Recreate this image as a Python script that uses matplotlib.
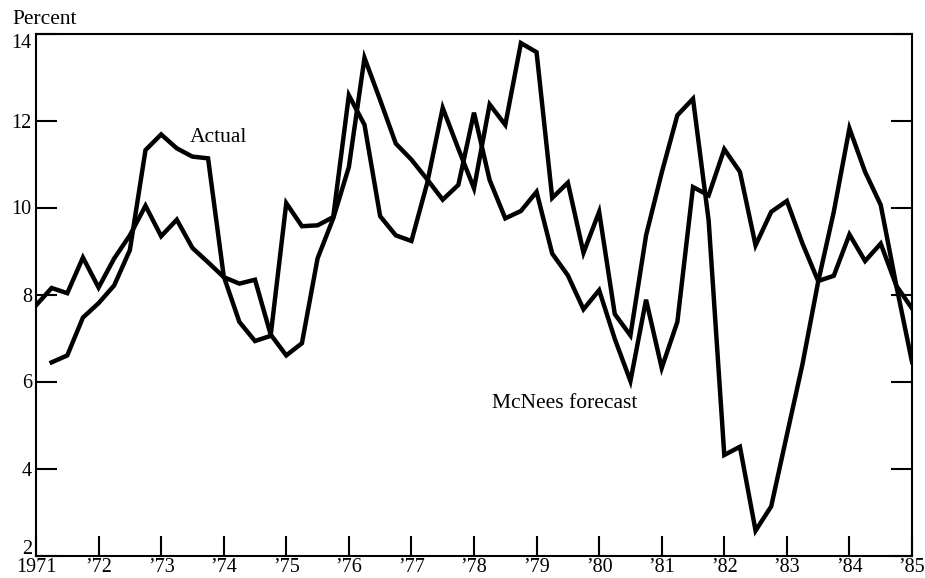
import matplotlib
matplotlib.use("Agg")
import matplotlib.pyplot as plt
import matplotlib.transforms as mtransforms
import numpy as np

# quarterly values
actual_start = 1971.25
actual = [6.44, 6.6, 7.47,
          7.8, 8.21, 9.02, 11.32,
          11.68, 11.36, 11.17, 11.13,
          8.42, 7.37, 6.93, 7.05,
          10.1, 9.57, 9.59, 9.78,
          12.58, 11.9, 9.8, 9.36,
          9.23, 10.55, 12.29, 11.35,
          10.44, 12.37, 11.9, 13.78,
          13.57, 10.22, 10.57, 8.96,
          9.9, 7.55, 7.06, 9.36,
          10.8, 12.12, 12.5, 9.7,
          4.31, 4.5, 2.57, 3.13,
          4.77, 6.4, 8.29, 9.9,
          11.82, 10.82, 10.06, 8.2,
          6.45]

forecast_start = 1971.0
forecast = [7.75, 8.15, 8.03, 8.85,
            8.16, 8.83, 9.36, 10.04,
            9.34, 9.72, 9.07, 8.74,
            8.4, 8.25, 8.34, 7.08,
            6.6, 6.88, 8.83, 9.75,
            10.93, 13.44, 12.47, 11.47,
            11.1, 10.65, 10.18, 10.52,
            12.18, 10.63, 9.75, 9.92,
            10.36, 8.94, 8.44, 7.66,
            8.1, 6.98, 6.01, 7.88,
            6.31, 7.37, 10.47, 10.28,
            11.34, 10.82, 9.13, 9.9,
            10.15, 9.17, 8.31, 8.43,
            9.38, 8.77, 9.17, 8.2,
            7.68]

years = list(range(1971, 1986))
year_labels = ["1971"] + ["\u2019%02d" % (y % 100) for y in years[1:]]
y_ticks = [2, 4, 6, 8, 10, 12, 14]

t_actual = actual_start + 0.25 * np.arange(len(actual))
t_forecast = forecast_start + 0.25 * np.arange(len(forecast))

plt.rcParams['font.family'] = ['Liberation Serif', 'DejaVu Serif']
plt.rcParams['font.size'] = 14.5

W, H = 925, 578
fig = plt.figure(figsize=(W / 100, H / 100), dpi=100)
ax = fig.add_axes([36 / W, 1 - 555.5 / H, (912 - 36) / W, (555.5 - 33.5) / H])

ax.plot(t_actual, actual, color='black', lw=3.2, solid_joinstyle='miter')
ax.plot(t_forecast, forecast, color='black', lw=3.2, solid_joinstyle='miter')

ax.set_xlim(1971, 1985)
ax.set_ylim(2, 14)
ax.set_xticks(years)
ax.set_xticklabels(year_labels)
ax.set_yticks(y_ticks)
ax.set_yticklabels([str(v) for v in y_ticks])

for s in ax.spines.values():
    s.set_linewidth(1.5)
    s.set_color('black')

ax.tick_params(axis='x', bottom=True, top=False, direction='in',
               length=14.5, width=1.5, pad=1.5, colors='black')
ax.tick_params(axis='y', left=True, right=True, labelright=False,
               direction='in', length=15, width=1.5, pad=3, colors='black')

# nudge the end labels inward like the original
ylabs = ax.get_yticklabels()
ylabs[-1].set_transform(ylabs[-1].get_transform() +
                        mtransforms.ScaledTranslation(0, -7 / 100, fig.dpi_scale_trans))
ylabs[0].set_transform(ylabs[0].get_transform() +
                       mtransforms.ScaledTranslation(0, 9 / 100, fig.dpi_scale_trans))

fig.text(12 / W, 1 - 20 / H, "Percent", ha='left', va='center', fontsize=15.5)
ax.text(1973.92, 11.6, "Actual", ha='center', va='center', fontsize=15.5)
ax.text(1979.45, 5.5, "McNees forecast", ha='center', va='center', fontsize=15.5)

fig.savefig("out.png", dpi=100, facecolor='white')
